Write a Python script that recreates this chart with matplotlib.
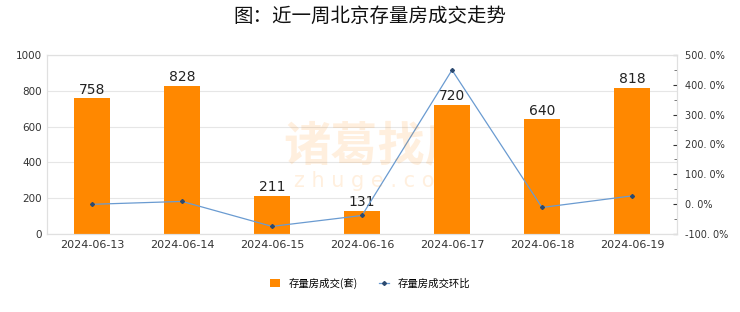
import numpy as np
import matplotlib.pyplot as plt
from matplotlib.ticker import MultipleLocator, FuncFormatter

plt.rcParams['font.family'] = ['DejaVu Sans', 'Noto Sans CJK SC']

dates = ["2024-06-13", "2024-06-14", "2024-06-15", "2024-06-16",
         "2024-06-17", "2024-06-18", "2024-06-19"]
volume = [758, 828, 211, 131, 720, 640, 818]
ratio = [-0.5, 9.2, -74.5, -37.9, 449.6, -11.1, 27.8]

fig = plt.figure(figsize=(7.4, 3.12), dpi=100)
ax = fig.add_axes([47 / 740, 1 - 234 / 312, 630 / 740, 179 / 312])
x = np.arange(len(dates))

bars = ax.bar(x, volume, width=0.4, color='#FF8800', label='存量房成交(套)', zorder=2)
for xi, v in zip(x, volume):
    ax.text(xi, v + 10, str(v), ha='center', va='bottom', fontsize=10, color='#222222', zorder=5)

ax.set_xlim(-0.5, len(dates) - 0.5)
ax.set_ylim(0, 1000)
ax.yaxis.set_major_locator(MultipleLocator(200))
ax.set_xticks(x)
ax.set_xticklabels(dates)
ax.grid(axis='y', color='#e6e6e6', linewidth=0.8, zorder=0)
ax.tick_params(axis='both', length=0, labelsize=7.5, colors='#333333')
ax.tick_params(axis='x', pad=4, labelsize=8)
for s in ax.spines.values():
    s.set_color('#e0e0e0')

ax2 = ax.twinx()
line, = ax2.plot(x, ratio, color='#6a9bd1', linewidth=0.9, marker='D', markersize=2,
                 markerfacecolor='#2c4a70', markeredgecolor='#2c4a70', label='存量房成交环比', zorder=4)
ax2.set_ylim(-100, 500)
ax2.yaxis.set_major_locator(MultipleLocator(100))
ax2.yaxis.set_minor_locator(MultipleLocator(50))
ax2.yaxis.set_major_formatter(FuncFormatter(lambda v, p: f"{v:.1f}%".replace('.', '. ')))
ax2.tick_params(axis='y', which='major', length=3, direction='in', labelsize=7,
                colors='#333333', pad=6)
ax2.tick_params(axis='y', which='minor', length=2, direction='in', color='#666666')
for s in ax2.spines.values():
    s.set_color('#e0e0e0')

# watermark
fig.text(0.51, 0.53, '诸葛找房', fontsize=34, color='#FF8800', alpha=0.13,
         ha='center', va='center', fontweight='bold', family='Noto Sans CJK SC')
fig.text(0.51, 0.42, 'z h u g e . c o m', fontsize=15, color='#FF8800', alpha=0.13,
         ha='center', va='center')

fig.suptitle('图：近一周北京存量房成交走势', x=0.5, y=0.98, fontsize=14, color='#111111',
             fontweight='medium', family='Noto Sans CJK SC')

fig.legend([bars, line], ['存量房成交(套)', '存量房成交环比'], loc='center',
           bbox_to_anchor=(0.5, 1 - 283 / 312), ncol=2, frameon=False,
           prop={'family': 'Noto Sans CJK SC', 'size': 7.5},
           handlelength=1.0, handleheight=0.8, columnspacing=2.0)

fig.savefig('out.png', dpi=100)
